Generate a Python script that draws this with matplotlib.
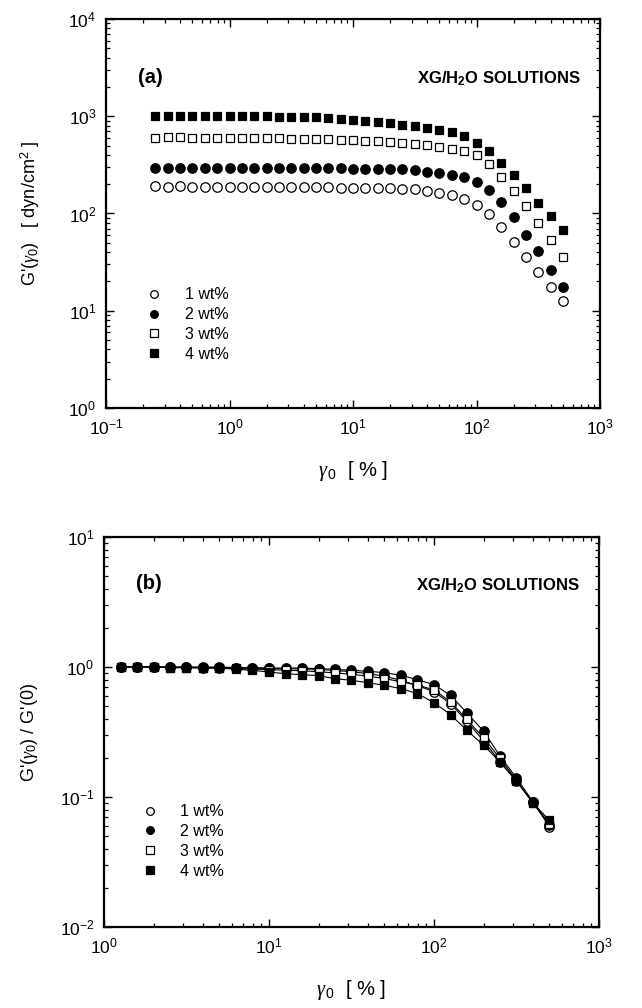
import matplotlib
matplotlib.use("Agg")
import matplotlib.pyplot as plt
from matplotlib.lines import Line2D

plt.rcParams["font.family"] = ["Liberation Sans", "DejaVu Sans"]
plt.rcParams["mathtext.fontset"] = "custom"
plt.rcParams["mathtext.rm"] = "Liberation Sans"
plt.rcParams["mathtext.bf"] = "Liberation Sans:bold"
plt.rcParams["mathtext.it"] = "Liberation Serif:italic"
plt.rcParams["axes.unicode_minus"] = False

# ---- panel (a): G'(gamma0) vs strain amplitude ----
strain_a = [0.25, 0.32, 0.40, 0.50, 0.63, 0.79, 1.0, 1.26, 1.58, 2.0, 2.51, 3.16,
            3.98, 5.01, 6.31, 7.94, 10.0, 12.6, 15.8, 20.0, 25.1, 31.6, 39.8, 50.1,
            63.1, 79.4, 100, 126, 158, 200, 251, 316, 398, 501]
g_1wt = [190, 188, 190, 186, 188, 189, 188, 188, 188, 187, 188, 187, 186, 186,
         186, 185, 185, 184, 183, 182, 180, 177, 171, 164, 155, 140, 123, 99,
         72, 51, 35.5, 25, 17.4, 12.5]
g_2wt = [295, 296, 296, 296, 295, 295, 295, 295, 294, 294, 294, 293, 293, 292,
         292, 291, 290, 290, 289, 287, 285, 277, 268, 259, 249, 236, 212, 176,
         130, 93, 60.5, 41, 26.2, 17.5]
g_3wt = [600, 605, 605, 600, 600, 600, 598, 598, 596, 595, 593, 590, 588, 585,
         580, 575, 570, 562, 555, 545, 535, 520, 502, 480, 460, 435, 400, 323,
         240, 171, 119, 80, 54, 36]
g_4wt = [1000, 1005, 1005, 1000, 1000, 1000, 1000, 1000, 1000, 1000, 988, 988,
         982, 982, 960, 943, 915, 888, 873, 858, 813, 790, 757, 723, 681, 624,
         535, 443, 333, 249, 184, 129, 94, 68]

# ---- panel (b): normalised G'(gamma0)/G'(0) ----
strain_b = [1.26, 1.58, 2.0, 2.51, 3.16, 3.98, 5.01, 6.31, 7.94, 10.0, 12.6, 15.8,
            20.0, 25.1, 31.6, 39.8, 50.1, 63.1, 79.4, 100, 126, 158, 200, 251,
            316, 398, 501]
n_1wt = [1.0, 1.0, 1.0, 1.0, 0.995, 0.99, 0.99, 0.985, 0.98, 0.975, 0.97, 0.965,
         0.96, 0.94, 0.92, 0.89, 0.85, 0.79, 0.72, 0.645, 0.522, 0.382, 0.27,
         0.187, 0.133, 0.091, 0.059]
n_2wt = [1.0, 1.0, 1.0, 1.0, 1.0, 1.0, 1.0, 0.988, 0.988, 0.982, 0.982, 0.982,
         0.971, 0.96, 0.943, 0.926, 0.905, 0.863, 0.799, 0.731, 0.605, 0.445,
         0.32, 0.207, 0.140, 0.092, 0.061]
n_3wt = [1.0, 1.0, 1.0, 0.99, 0.99, 0.985, 0.98, 0.975, 0.965, 0.955, 0.945,
         0.935, 0.92, 0.90, 0.88, 0.85, 0.815, 0.77, 0.725, 0.667, 0.54, 0.395,
         0.285, 0.198, 0.135, 0.09, 0.062]
n_4wt = [1.0, 1.0, 1.0, 0.988, 0.988, 0.982, 0.982, 0.96, 0.943, 0.915, 0.888,
         0.873, 0.858, 0.813, 0.79, 0.757, 0.723, 0.681, 0.624, 0.532, 0.43,
         0.326, 0.25, 0.186, 0.132, 0.090, 0.066]

labels = ["1 wt%", "2 wt%", "3 wt%", "4 wt%"]
styles = [("o", "white"), ("o", "black"), ("s", "white"), ("s", "black")]


def style_axis(ax):
    ax.set_xscale("log")
    ax.set_yscale("log")
    for sp in ax.spines.values():
        sp.set_linewidth(1.6)
    ax.tick_params(which="both", direction="in", top=True, right=True,
                   labelsize=12.5, pad=7)
    ax.tick_params(which="major", length=5.5, width=1.0)
    ax.tick_params(which="minor", length=3.0, width=0.9)


def add_legend(ax, x0, y0, size):
    handles = [Line2D([], [], linestyle="none", marker=m, markersize=size,
                      markerfacecolor=fc, markeredgecolor="black",
                      markeredgewidth=0.9) for m, fc in styles]
    ax.legend(handles, labels, loc="upper left", bbox_to_anchor=(x0, y0),
              frameon=False, fontsize=11.5, handlelength=0.8,
              handletextpad=1.5, labelspacing=0.3, borderpad=0,
              borderaxespad=0)


fig = plt.figure(figsize=(6.42, 10.08), dpi=100)

# panel (a)
ax1 = fig.add_axes([106 / 642, 1 - 408 / 1008, 494 / 642, 389 / 1008])
style_axis(ax1)
for ys, (m, fc) in zip([g_1wt, g_2wt, g_3wt, g_4wt], styles):
    ms = 6.8 if m == "o" else 6.2
    ax1.plot(strain_a, ys, linestyle="none", marker=m, markersize=ms,
             markerfacecolor=fc, markeredgecolor="black", markeredgewidth=0.9)
ax1.set_xlim(0.1, 1000)
ax1.set_ylim(1, 1e4)
ax1.set_xlabel(r"$\gamma_{\,0}$  [ % ]", fontsize=14.5)
ax1.xaxis.set_label_coords(0.5, -0.13)
ax1.set_ylabel(r"G'($\gamma_0$)   [ dyn/cm$^2$ ]", fontsize=13)
ax1.yaxis.set_label_coords(-0.13, 0.5)
ax1.text(0.065, 0.85, "(a)", transform=ax1.transAxes, fontsize=14.5,
         fontweight="bold", va="center", ha="left")
ax1.text(0.96, 0.845, r"XG/H$_\mathbf{2}$O SOLUTIONS", transform=ax1.transAxes,
         fontsize=12, fontweight="bold", va="center", ha="right")
add_legend(ax1, 0.085, 0.31, 5.5)

# panel (b)
ax2 = fig.add_axes([104 / 642, 1 - 927 / 1008, 495 / 642, 390 / 1008])
style_axis(ax2)
for ys, (m, fc) in zip([n_1wt, n_2wt, n_3wt, n_4wt], styles):
    ms = 6.8 if m == "o" else 6.2
    ax2.plot(strain_b, ys, color="black", linewidth=0.8, marker=m,
             markersize=ms, markerfacecolor=fc, markeredgecolor="black",
             markeredgewidth=0.9)
ax2.set_xlim(1, 1000)
ax2.set_ylim(0.01, 10)
ax2.set_xlabel(r"$\gamma_{\,0}$  [ % ]", fontsize=14.5)
ax2.xaxis.set_label_coords(0.5, -0.13)
ax2.set_ylabel(r"G'($\gamma_0$) / G'(0)", fontsize=13)
ax2.yaxis.set_label_coords(-0.13, 0.5)
ax2.text(0.065, 0.88, "(b)", transform=ax2.transAxes, fontsize=14.5,
         fontweight="bold", va="center", ha="left")
ax2.text(0.96, 0.875, r"XG/H$_\mathbf{2}$O SOLUTIONS", transform=ax2.transAxes,
         fontsize=12, fontweight="bold", va="center", ha="right")
add_legend(ax2, 0.08, 0.315, 5.5)

fig.savefig("out.png", dpi=100)
